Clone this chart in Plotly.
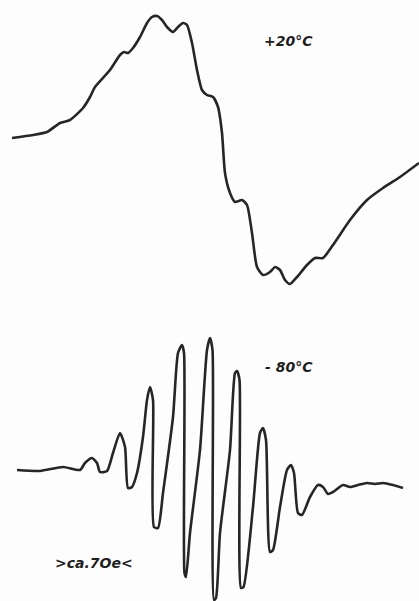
import plotly.graph_objects as go

# ESR derivative spectra, field position (arb. units) vs. signal (arb. units, downward positive)
field_warm = [12, 33, 47, 60, 70, 83, 90, 95, 110, 120, 124, 128, 133, 140, 147, 152, 157, 162,
              167, 173, 178, 183, 187, 192, 197, 202, 207, 213, 218, 222, 225, 230, 235, 242,
              247, 252, 257, 263, 270, 275, 280, 285, 290, 297, 307, 315, 323, 333, 350, 367,
              383, 400, 419]
signal_warm = [138, 135, 132, 123, 120, 108, 97, 87, 70, 55, 52, 53, 48, 37, 23, 17, 16, 20,
               27, 32, 27, 23, 25, 43, 70, 90, 95, 97, 107, 133, 173, 193, 202, 200,
               205, 233, 267, 275, 272, 267, 270, 280, 284, 277, 265, 258, 258, 245, 220, 200,
               188, 177, 163]

field_cold = [17, 40, 63, 80, 85, 92, 97, 100, 107, 113, 120, 125, 128, 132, 137, 143, 147, 150,
              153, 154, 158, 163, 173, 178, 182, 184, 184.5, 186, 190, 200, 207, 210, 212.5,
              214, 216, 220, 230, 235, 237, 239.5, 241, 243.5, 253, 260, 263, 266, 270, 273,
              280, 287, 291, 294, 298, 302, 310, 318, 323, 328, 333, 343, 350, 358, 367, 375,
              383, 393, 403]
signal_cold = [470, 471, 467, 470, 463, 458, 463, 472, 471, 453, 433, 447, 488, 487, 473, 437, 400, 387,
               400, 527, 528, 493, 417, 353, 345, 353, 573, 577, 533, 450, 350, 338, 350,
               600, 598, 533, 450, 373, 371, 380, 588, 587, 507, 433, 428, 440, 552, 550,
               507, 470, 465, 473, 513, 515, 497, 485, 487, 494, 492, 485, 487, 485, 483, 484,
               483, 485, 488]

labels = ["+20°C", "- 80°C", ">ca.7Oe<"]
label_x = [288, 289, 94]
label_y = [41, 367, 563]

line_style = dict(color="#262626", width=2.6, shape="spline", smoothing=0.6)

fig = go.Figure()
fig.add_trace(go.Scatter(x=field_warm, y=signal_warm, mode="lines", line=line_style,
                         hoverinfo="skip"))
fig.add_trace(go.Scatter(x=field_cold, y=signal_cold, mode="lines", line=line_style,
                         hoverinfo="skip"))

for txt, lx, ly in zip(labels, label_x, label_y):
    fig.add_annotation(x=lx, y=ly, text=txt, showarrow=False,
                       font=dict(family="DejaVu Sans", size=14, color="#1e1e1e",
                                 style="italic", weight="bold"))

fig.update_layout(
    width=419, height=601,
    margin=dict(l=0, r=0, t=0, b=0),
    paper_bgcolor="#fdfdfd", plot_bgcolor="#fdfdfd",
    showlegend=False,
    xaxis=dict(range=[0, 419], visible=False, fixedrange=True),
    yaxis=dict(range=[601, 0], visible=False, fixedrange=True),
)

fig.write_html("out.html")
